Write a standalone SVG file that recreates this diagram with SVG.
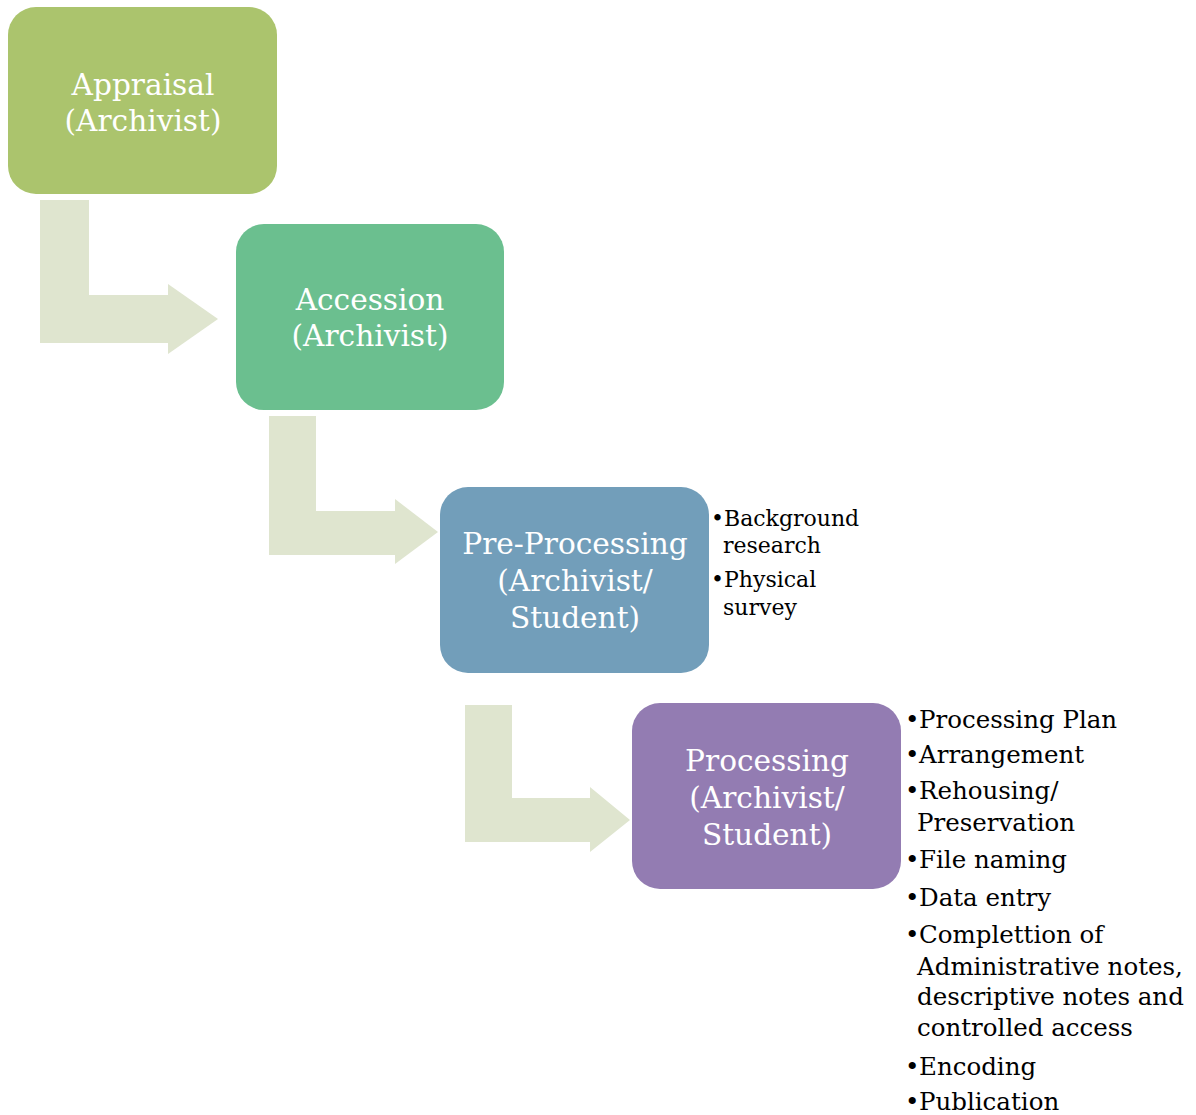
<svg xmlns="http://www.w3.org/2000/svg" width="1196" height="1115" viewBox="0 0 1196 1115">
  <style>
    .arrow { fill: #DFE5CF; }
    .box-label { font-family: "DejaVu Serif", "Liberation Serif", serif; font-size: 29.6px; fill: #FFFFFF; text-anchor: middle; }
    .notes { font-family: "DejaVu Serif", "Liberation Serif", serif; fill: #000000; }
    .notes-sm { font-size: 22px; }
    .notes-lg { font-size: 24.5px; }
  </style>
  <rect x="0" y="0" width="1196" height="1115" fill="#FFFFFF"/>

  <!-- bent arrows linking the stages -->
  <g id="connectors">
    <polygon class="arrow" points="40,200 89,200 89,295 168,295 168,284 218,319 168,354 168,343 40,343"/>
    <polygon class="arrow" points="269,416 316,416 316,511 395,511 395,499 438,532 395,564 395,555 269,555"/>
    <polygon class="arrow" points="465,705 512,705 512,798 590,798 590,787 630,820 590,852 590,842 465,842"/>
  </g>

  <g id="appraisal">
    <rect x="8" y="7" width="269" height="187" rx="28" ry="28" fill="#ABC46D"/>
    <text class="box-label" x="143" y="95">Appraisal</text>
    <text class="box-label" x="143" y="131">(Archivist)</text>
  </g>

  <g id="accession">
    <rect x="236" y="224" width="268" height="186" rx="28" ry="28" fill="#6BBF8F"/>
    <text class="box-label" x="370" y="310">Accession</text>
    <text class="box-label" x="370" y="346">(Archivist)</text>
  </g>

  <g id="pre-processing">
    <rect x="440" y="487" width="269" height="186" rx="28" ry="28" fill="#729EBA"/>
    <text class="box-label" x="575" y="554">Pre-Processing</text>
    <text class="box-label" x="575" y="591">(Archivist/</text>
    <text class="box-label" x="575" y="628">Student)</text>
  </g>

  <g id="pre-processing-notes" class="notes notes-sm">
    <text x="711" y="526">•</text><text x="724" y="526">Background</text>
    <text x="723" y="553">research</text>
    <text x="711" y="587">•</text><text x="724" y="587">Physical</text>
    <text x="723" y="615">survey</text>
  </g>

  <g id="processing">
    <rect x="632" y="703" width="269" height="186" rx="28" ry="28" fill="#937CB2"/>
    <text class="box-label" x="767" y="771">Processing</text>
    <text class="box-label" x="767" y="808">(Archivist/</text>
    <text class="box-label" x="767" y="845">Student)</text>
  </g>

  <g id="processing-notes" class="notes notes-lg">
    <text x="905" y="728">•</text><text x="919" y="728">Processing Plan</text>
    <text x="905" y="763">•</text><text x="919" y="763">Arrangement</text>
    <text x="905" y="799">•</text><text x="919" y="799">Rehousing/</text>
    <text x="917" y="831">Preservation</text>
    <text x="905" y="868">•</text><text x="919" y="868">File naming</text>
    <text x="905" y="906">•</text><text x="919" y="906">Data entry</text>
    <text x="905" y="943">•</text><text x="919" y="943">Complettion of</text>
    <text x="917" y="975">Administrative notes,</text>
    <text x="917" y="1005">descriptive notes and</text>
    <text x="917" y="1036">controlled access</text>
    <text x="905" y="1075">•</text><text x="919" y="1075">Encoding</text>
    <text x="905" y="1110">•</text><text x="919" y="1110">Publication</text>
  </g>
</svg>
